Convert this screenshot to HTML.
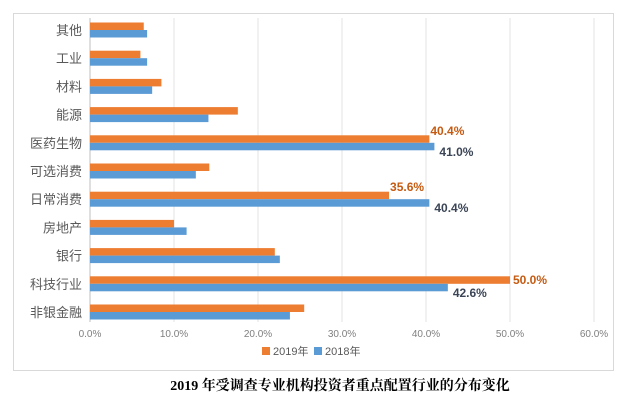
<!DOCTYPE html>
<html><head><meta charset="utf-8"><style>
body{margin:0;background:#fff;}
svg text{font-family:"Liberation Sans","Noto Sans CJK SC",sans-serif;}
</style></head><body>
<svg id="c" width="624" height="405" xmlns="http://www.w3.org/2000/svg">
<rect x="13.5" y="13.5" width="600" height="357" fill="#fff" stroke="#d9d9d9"/>
<g id="grid"></g><g id="bars"></g><g id="labels"></g>
<g>
<rect x="262" y="347" width="8" height="8" fill="#ed7d31"/>
<text x="273" y="355" font-size="11" fill="#595959">2019年</text>
<rect x="314" y="347" width="8" height="8" fill="#5b9bd5"/>
<text x="325" y="355" font-size="11" fill="#595959">2018年</text>
</g>
<text x="340" y="390" text-anchor="middle" font-size="14" font-weight="bold" fill="#000" style="font-family:'Liberation Serif','Noto Serif CJK SC',serif">2019 年受调查专业机构投资者重点配置行业的分布变化</text>
</svg>
<script>
const categories=["其他","工业","材料","能源","医药生物","可选消费","日常消费","房地产","银行","科技行业","非银金融"];
const values2019=[6.4,6.0,8.5,17.6,40.4,14.2,35.6,10.0,22.0,50.0,25.5];
const values2018=[6.8,6.8,7.4,14.1,41.0,12.6,40.4,11.5,22.6,42.6,23.8];
const ticks=[0,10,20,30,40,50,60];
const labeled2019={4:"40.4%",6:"35.6%",9:"50.0%"};
const labeled2018={4:"41.0%",6:"40.4%",9:"42.6%"};
const NS="http://www.w3.org/2000/svg";
const x0=90,pxPer=8.4,yTop=30,band=28.2,bh=7.5;
const xs=v=>x0+v*pxPer;
const yc=i=>yTop+i*band;
function mk(tag,attrs,parent,txt){const e=document.createElementNS(NS,tag);for(const k in attrs)e.setAttribute(k,attrs[k]);if(txt!==undefined)e.textContent=txt;document.getElementById(parent).appendChild(e);return e;}
ticks.forEach(t=>{
  const l=mk("line",{x1:xs(t),x2:xs(t),y1:18,y2:322,stroke:t===0?"#bfbfbf":"#e3e3e3"},"grid");
  
  
  const tx=mk("text",{x:xs(t),y:337,"text-anchor":"middle","font-size":"10",fill:"#7f7f7f"},"grid",t.toFixed(1)+"%");
  
  
});
categories.forEach((c,i)=>{
  const y=yc(i);
  const t=mk("text",{x:x0-8,y:y+5,"text-anchor":"end","font-size":"13",fill:"#595959"},"labels",c);
  
  
  const a=mk("rect",{x:x0,y:y-bh,width:xs(values2019[i])-x0,height:bh,fill:"#ed7d31"},"bars");
  
  
  const b=mk("rect",{x:x0,y:y,width:xs(values2018[i])-x0,height:bh,fill:"#5b9bd5"},"bars");
  
  
  if(labeled2019[i]){
    const side=i===9;
    const l=mk("text",{x:xs(values2019[i])+(side?3:1),y:side?y:y-8,"font-size":"12","font-weight":"bold",fill:"#c55a11"},"labels",labeled2019[i]);
    
    
  }
  if(labeled2018[i]){
    const l=mk("text",{x:xs(values2018[i])+5,y:y+13,"font-size":"12","font-weight":"bold",fill:"#3b4556"},"labels",labeled2018[i]);
    
    
  }
});
</script>
</body></html>
